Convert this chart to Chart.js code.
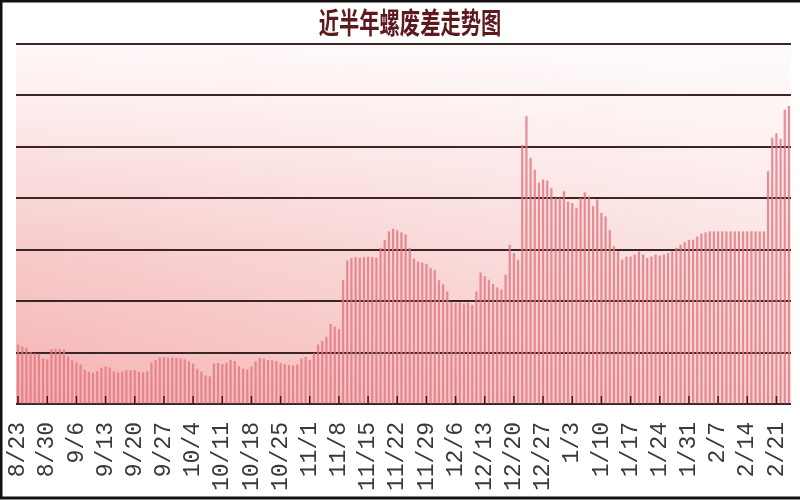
<!DOCTYPE html>
<html>
<head>
<meta charset="utf-8">
<script src="https://cdn.jsdelivr.net/npm/chart.js@4.4.0/dist/chart.umd.min.js"></script>
<style>
html, body { margin: 0; padding: 0; background: #fff; }
</style>
</head>
<body>
<canvas id="grafico" width="800" height="500"></canvas>
<script>
const titulo = '近半年螺废差走势图';

// rótulos semanais do eixo x
const semanas = ['8/23', '8/30', '9/6', '9/13', '9/20', '9/27', '10/4', '10/11', '10/18',
    '10/25', '11/1', '11/8', '11/15', '11/22', '11/29', '12/6', '12/13', '12/20',
    '12/27', '1/3', '1/10', '1/17', '1/24', '1/31', '2/7', '2/14', '2/21'];

// valores diários (8/23 até 2/24), uma linha por semana
const valores = [
    115, 111, 109, 100, 98, 97, 88,
    86, 106, 107, 106, 105, 92, 84,
    80, 76, 66, 62, 60, 63, 70,
    72, 70, 63, 61, 62, 65, 65,
    65, 62, 61, 63, 80, 85, 90,
    90, 89, 90, 89, 88, 86, 82,
    78, 68, 62, 55, 53, 78, 79,
    77, 80, 85, 83, 73, 68, 66,
    72, 82, 89, 87, 85, 84, 83,
    79, 77, 75, 74, 76, 88, 91,
    85, 98, 115, 122, 130, 155, 150,
    145, 240, 278, 283, 285, 284, 285,
    286, 285, 284, 303, 318, 335, 340,
    337, 333, 329, 303, 282, 276, 274,
    272, 264, 260, 240, 232, 218, 198,
    196, 197, 195, 196, 192, 218, 255,
    248, 241, 233, 226, 222, 251, 309,
    293, 280, 503, 559, 478, 455, 430,
    436, 434, 419, 400, 400, 413, 393,
    390, 381, 400, 411, 403, 384, 397,
    371, 364, 338, 306, 296, 280, 286,
    286, 290, 296, 290, 283, 286, 290,
    288, 290, 293, 296, 303, 309, 314,
    318, 319, 325, 331, 333, 335, 335,
    335, 335, 335, 335, 335, 335, 335,
    335, 335, 335, 335, 335, 452, 517,
    526, 515, 572, 579
];

// um rótulo por dia, a partir de 8/23
const dias = [];
for (let i = 0; i < valores.length; i++) {
    const d = new Date(2016, 7, 23 + i);
    dias.push((d.getMonth() + 1) + '/' + d.getDate());
}

const fundo = {
    id: 'fundo',
    beforeDraw(chart) {
        const { ctx, chartArea: a } = chart;
        ctx.save();
        ctx.fillStyle = '#fff';
        ctx.fillRect(0, 0, chart.width, chart.height);
        const gv = ctx.createLinearGradient(0, a.bottom, 0, a.top);
        gv.addColorStop(0, '#f5b2b2');
        gv.addColorStop(0.45, '#f8cccc');
        gv.addColorStop(0.8, '#fdeaea');
        gv.addColorStop(1, '#fff8f8');
        ctx.fillStyle = gv;
        ctx.fillRect(a.left, a.top, a.right - a.left, a.bottom - a.top);
        const gh = ctx.createLinearGradient(a.left, 0, a.right, 0);
        gh.addColorStop(0, 'rgba(255,255,255,0)');
        gh.addColorStop(1, 'rgba(255,255,255,0.5)');
        ctx.fillStyle = gh;
        ctx.fillRect(a.left, a.top, a.right - a.left, a.bottom - a.top);
        ctx.restore();
    },
    afterDraw(chart) {
        const { ctx, chartArea: a } = chart;
        const x = chart.scales.x;
        ctx.save();
        // marcas semanais voltadas para dentro
        ctx.strokeStyle = '#3b2020';
        ctx.lineWidth = 1.5;
        dias.forEach((d, i) => {
            if (!semanas.includes(d)) return;
            const px = x.getPixelForValue(i);
            ctx.beginPath();
            ctx.moveTo(px, a.bottom - 8);
            ctx.lineTo(px, a.bottom);
            ctx.stroke();
        });
        // título estreito
        ctx.translate(410, 23);
        ctx.scale(0.7, 1);
        ctx.font = 'bold 29px "Noto Sans CJK SC"';
        ctx.textAlign = 'center';
        ctx.textBaseline = 'middle';
        ctx.fillStyle = '#5c1a1f';
        ctx.fillText(titulo, 0, 0);
        ctx.restore();
        // moldura
        ctx.save();
        ctx.strokeStyle = '#111';
        ctx.lineWidth = 3;
        ctx.beginPath();
        ctx.moveTo(800, 1);
        ctx.lineTo(1, 1);
        ctx.lineTo(1, 498);
        ctx.lineTo(800, 498);
        ctx.stroke();
        ctx.restore();
    }
};

const ctx = document.getElementById('grafico').getContext('2d');
const grafico = new Chart(ctx, {
    type: 'bar',
    data: {
        labels: dias,
        datasets: [{
            label: titulo,
            data: valores,
            backgroundColor: 'rgba(226, 118, 128, 0.8)',
            barThickness: 1.6
        }]
    },
    options: {
        responsive: false,
        animation: false,
        devicePixelRatio: 1,
        layout: { padding: { left: 16, right: 9, top: 44, bottom: 8 } },
        plugins: {
            legend: { display: false },
            title: { display: false },
            tooltip: { enabled: false }
        },
        scales: {
            x: {
                grid: { display: false },
                border: { display: false },
                afterFit(scale) {
                    scale.height = 88;
                    scale.paddingLeft = 0;
                    scale.paddingRight = 0;
                },
                ticks: {
                    autoSkip: false,
                    minRotation: 90,
                    maxRotation: 90,
                    padding: 10,
                    color: '#3a3a3a',
                    font: { family: '"Liberation Mono", monospace', size: 23 },
                    callback: function (v) {
                        const l = this.getLabelForValue(v);
                        return semanas.includes(l) ? l : '';
                    }
                }
            },
            y: {
                min: 0,
                max: 700,
                ticks: { display: false, stepSize: 100 },
                border: { display: false },
                grid: { color: '#3b2626', lineWidth: 2, drawTicks: false }
            }
        }
    },
    plugins: [fundo]
});
</script>
</body>
</html>
